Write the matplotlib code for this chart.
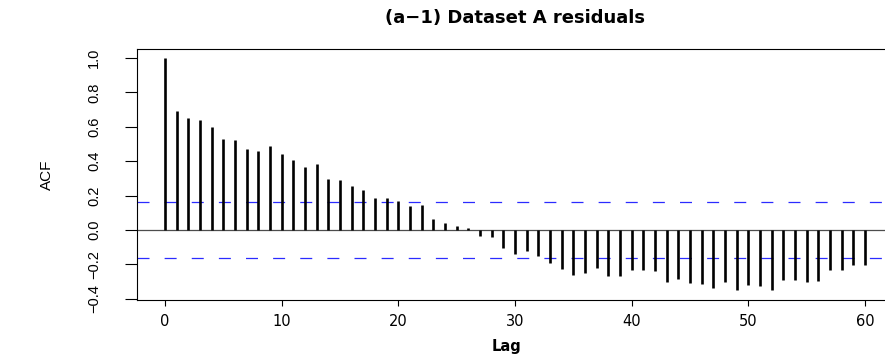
import matplotlib
matplotlib.use("Agg")
import matplotlib.pyplot as plt
from matplotlib import font_manager

# Autocorrelation of the residual series, lags 0..60
lags = list(range(61))
acf_values = [1.000, 0.692, 0.651, 0.638, 0.601, 0.527, 0.521, 0.469, 0.457, 0.486,
              0.442, 0.409, 0.366, 0.384, 0.295, 0.289, 0.256, 0.231, 0.187, 0.184,
              0.169, 0.138, 0.145, 0.062, 0.041, 0.023, 0.012, -0.033, -0.043, -0.107,
              -0.143, -0.120, -0.153, -0.194, -0.225, -0.260, -0.248, -0.223, -0.269, -0.266,
              -0.231, -0.231, -0.240, -0.306, -0.287, -0.310, -0.316, -0.337, -0.302, -0.349,
              -0.322, -0.329, -0.351, -0.293, -0.289, -0.306, -0.298, -0.233, -0.233, -0.202,
              -0.205]
conf_limit = 0.162  # approx. 1.96 / sqrt(n)

x_ticks = [0, 10, 20, 30, 40, 50, 60]
y_ticks = [-0.4, -0.2, 0.0, 0.2, 0.4, 0.6, 0.8, 1.0]
y_tick_labels = ["\u22120.4", "\u22120.2", "0.0", "0.2", "0.4", "0.6", "0.8", "1.0"]

title_text = "(a\u22121) Dataset A residuals"
x_label = "Lag"
y_label = "ACF"

# Narrow face for the rotated labels, wide face for horizontal text
available = {f.name for f in font_manager.fontManager.ttflist}
narrow_family = next((n for n in ("Liberation Sans Narrow", "Liberation Sans")
                      if n in available), "DejaVu Sans")
wide_family = "DejaVu Sans"

W, H = 885, 357
fig = plt.figure(figsize=(W / 100, H / 100), dpi=100)
left_px, right_px, top_px, bottom_px = 137, 893, 48.7, 299.5
ax = fig.add_axes([left_px / W, 1 - bottom_px / H,
                   (right_px - left_px) / W, (bottom_px - top_px) / H])

# R-style 4% padding around the data range
x_lo, x_hi = min(lags), max(lags)
x_pad = 0.04 * (x_hi - x_lo)
y_lo = min(min(acf_values), -conf_limit)
y_hi = max(max(acf_values), conf_limit)
y_pad = 0.04 * (y_hi - y_lo)
ax.set_xlim(x_lo - x_pad, x_hi + x_pad)
ax.set_ylim(y_lo - y_pad, y_hi + y_pad)

ax.axhline(0, color="#4d4d4d", linewidth=0.9, zorder=1)
ax.vlines(lags, 0, acf_values, colors="black", linewidth=1.9,
          capstyle="butt", zorder=3)
for c in (conf_limit, -conf_limit):
    ax.axhline(c, color="#2b2bff", linewidth=0.9,
               linestyle=(0, (9.6, 12.1)), zorder=2)

for side in ("left", "top", "bottom"):
    ax.spines[side].set_linewidth(0.8)
    ax.spines[side].set_color("black")
ax.spines["right"].set_visible(False)

ax.set_xticks(x_ticks)
ax.set_xticklabels([str(t) for t in x_ticks], family=wide_family, fontsize=10.5)
ax.set_yticks(y_ticks)
ax.set_yticklabels(y_tick_labels, family=narrow_family,
                   fontsize=10.5, rotation=90, va="center")
ax.tick_params(axis="x", direction="out", length=4.3, width=0.8, pad=6)
ax.tick_params(axis="y", direction="out", length=9, width=0.8, pad=17)

fig.text(0.5 * (left_px + right_px) / W, 1 - 18 / H, title_text,
         family=wide_family, fontweight="bold", fontsize=13,
         ha="center", va="center")
fig.text(507 / W, 1 - 346 / H, x_label, family=wide_family, fontsize=10.5,
         fontweight="bold", ha="center", va="center")
fig.text(47 / W, 1 - 175 / H, y_label, family=narrow_family,
         fontsize=11, rotation=90, ha="center", va="center")

fig.savefig("out.png", dpi=100)
